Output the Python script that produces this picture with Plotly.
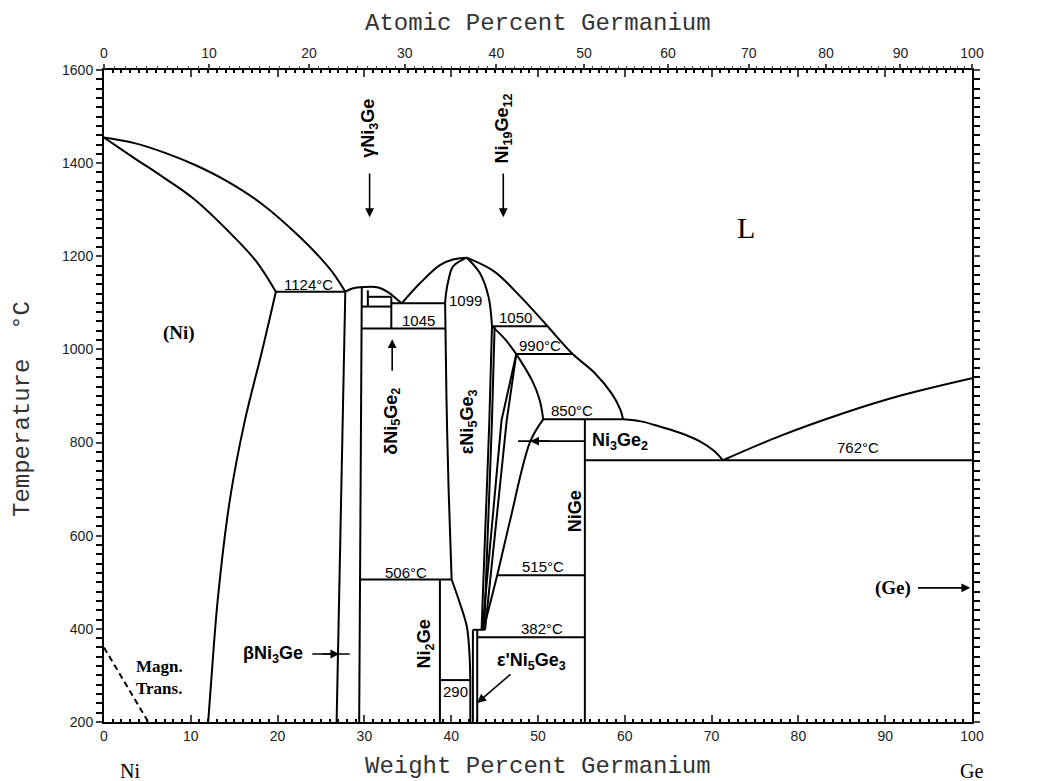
import plotly.graph_objects as go

# molar masses, used only to place the atomic-percent scale on the top axis
M_NI, M_GE = 58.69, 72.63


def at_to_wt(a):
    return 100 * a * M_GE / (a * M_GE + (100 - a) * M_NI)


wt_ticks = list(range(0, 101, 10))
t_ticks = list(range(200, 1601, 200))
at_ticks = list(range(0, 101, 10))
at_minor = [a for a in range(0, 101) if a % 10]

# phase boundaries: weight % Ge vs temperature (°C)
ni_liq_wt = [0, 3.5, 7.2, 10.5, 13.9, 18.0, 22.6, 25.0, 26.4, 27.8]
ni_liq_t = [1455, 1443, 1421, 1396, 1364, 1315, 1241, 1195, 1164, 1124]
ni_sol_wt = [0, 3.4, 6.8, 10.3, 14.9, 17.5, 19.8]
ni_sol_t = [1455, 1412, 1370, 1324, 1243, 1190, 1124]
ni_solvus_wt = [19.8, 18.2, 16.2, 14.5, 13.1, 12.4, 12.0]
ni_solvus_t = [1124, 996, 845, 677, 462, 300, 200]
eut1124_wt = [19.8, 27.8]
eut1124_t = [1124, 1124]

beta_l_wt = [27.8, 26.8]
beta_l_t = [1124, 200]
beta_r_wt = [29.7, 29.4]
beta_r_t = [1133, 200]
gamma_dome_wt = [27.8, 28.6, 30.0, 31.6, 32.8, 33.6, 34.3]
gamma_dome_t = [1124, 1131, 1134, 1133, 1122, 1110, 1099]
g_v1_wt = [30.4, 30.4]
g_v1_t = [1127, 1092]
g_h1_wt = [30.4, 33.1]
g_h1_t = [1113, 1113]
g_h2_wt = [29.7, 33.1]
g_h2_t = [1092, 1092]
g_v2_wt = [33.1, 33.1]
g_v2_t = [1113, 1045]
p1099_wt = [33.1, 39.3]
p1099_t = [1099, 1099]
p1045_wt = [29.7, 39.3]
p1045_t = [1045, 1045]

eps_liq_l_wt = [34.3, 36.4, 38.7, 40.2, 41.8]
eps_liq_l_t = [1099, 1142, 1181, 1193, 1197]
eps_liq_r_wt = [41.8, 44.9, 47.9, 51.0, 54.0, 56.5, 58.5, 59.5, 59.8]
eps_liq_r_t = [1197, 1168, 1115, 1052, 990, 950, 905, 870, 850]
eps_top_l_wt = [41.8, 40.2, 39.7, 39.4, 39.3]
eps_top_l_t = [1197, 1178, 1150, 1120, 1099]
eps_mid_l_wt = [39.3, 39.45, 39.7, 40.05]
eps_mid_l_t = [1099, 900, 700, 506]
eps_low_l_wt = [40.05, 41.0, 41.8, 42.1, 42.2]
eps_low_l_t = [506, 455, 405, 348, 290]
eps_r_wt = [41.8, 43.3, 44.3, 44.7]
eps_r_t = [1197, 1164, 1113, 1050]
eps_r_low_wt = [44.7, 44.4, 43.9, 43.5]
eps_r_low_t = [1050, 850, 600, 398]
n19_l_wt = [45.0, 44.7, 44.2, 43.8]
n19_l_t = [1048, 850, 600, 398]

p1050_wt = [44.7, 51.0]
p1050_t = [1050, 1050]
c1050_990_wt = [44.7, 46.2, 47.5]
c1050_990_t = [1050, 1022, 990]
p990_wt = [47.5, 54.0]
p990_t = [990, 990]
c990_850_wt = [47.5, 49.3, 50.2, 50.6]
c990_850_t = [990, 934, 891, 850]
p850_wt = [50.6, 59.8]
p850_t = [850, 850]
c850_down_wt = [50.6, 49.1, 46.8, 45.3, 43.8]
c850_down_t = [850, 802, 634, 515, 405]
apex_a_wt = [47.5, 45.8, 43.6]
apex_a_t = [990, 848, 398]
apex_b_wt = [47.5, 46.4, 43.9]
apex_b_t = [990, 848, 398]

nige_wt = [55.4, 55.4]
nige_t = [850, 200]
eut762_wt = [55.4, 100]
eut762_t = [762, 762]
ni3ge2_liq_wt = [59.8, 62.0, 64.1, 66.5, 68.7, 70.3, 71.3]
ni3ge2_liq_t = [850, 845, 834, 820, 802, 782, 762]
ge_liq_wt = [71.3, 78, 85, 92, 100]
ge_liq_t = [762, 815, 862, 902, 938.3]

p506_wt = [29.4, 40.05]
p506_t = [506, 506]
ni2ge_wt = [38.7, 38.7]
ni2ge_t = [506, 200]
p290_wt = [38.7, 42.2]
p290_t = [290, 290]
box290_wt = [42.2, 42.2]
box290_t = [290, 200]
epsp_l_wt = [42.5, 42.5]
epsp_l_t = [398, 200]
epsp_r_wt = [43.0, 43.0]
epsp_r_t = [398, 200]
p398_wt = [42.5, 43.9]
p398_t = [398, 398]
p382_wt = [43.0, 55.4]
p382_t = [382, 382]
p515_wt = [45.3, 55.4]
p515_t = [515, 515]

magn_wt = [0, 5.1]
magn_t = [360, 200]

curves = [
    (ni_liq_wt, ni_liq_t, True), (ni_sol_wt, ni_sol_t, True),
    (ni_solvus_wt, ni_solvus_t, True), (eut1124_wt, eut1124_t, False),
    (beta_l_wt, beta_l_t, False), (beta_r_wt, beta_r_t, False),
    (gamma_dome_wt, gamma_dome_t, True),
    (g_v1_wt, g_v1_t, False), (g_h1_wt, g_h1_t, False), (g_h2_wt, g_h2_t, False),
    (g_v2_wt, g_v2_t, False), (p1099_wt, p1099_t, False), (p1045_wt, p1045_t, False),
    (eps_liq_l_wt, eps_liq_l_t, True), (eps_liq_r_wt, eps_liq_r_t, True),
    (eps_top_l_wt, eps_top_l_t, True), (eps_mid_l_wt, eps_mid_l_t, True),
    (eps_low_l_wt, eps_low_l_t, True), (eps_r_wt, eps_r_t, True),
    (eps_r_low_wt, eps_r_low_t, True), (n19_l_wt, n19_l_t, True),
    (p1050_wt, p1050_t, False), (c1050_990_wt, c1050_990_t, True),
    (p990_wt, p990_t, False), (c990_850_wt, c990_850_t, True),
    (p850_wt, p850_t, False), (c850_down_wt, c850_down_t, True),
    (apex_a_wt, apex_a_t, False), (apex_b_wt, apex_b_t, False),
    (nige_wt, nige_t, False), (eut762_wt, eut762_t, False),
    (ni3ge2_liq_wt, ni3ge2_liq_t, True), (ge_liq_wt, ge_liq_t, True),
    (p506_wt, p506_t, False), (ni2ge_wt, ni2ge_t, False), (p290_wt, p290_t, False),
    (box290_wt, box290_t, False), (epsp_l_wt, epsp_l_t, False),
    (epsp_r_wt, epsp_r_t, False), (p398_wt, p398_t, False),
    (p382_wt, p382_t, False), (p515_wt, p515_t, False),
]

fig = go.Figure()
for xs, ys, smooth in curves:
    fig.add_trace(go.Scatter(
        x=xs, y=ys, mode='lines', hoverinfo='skip', showlegend=False,
        line=dict(color='black', width=2, shape='spline' if smooth else 'linear',
                  smoothing=1.0 if smooth else 0)))

fig.add_trace(go.Scatter(x=magn_wt, y=magn_t, mode='lines', hoverinfo='skip',
                         showlegend=False,
                         line=dict(color='black', width=2, dash='6px,4px')))

# invisible traces so the top (atomic %) axes get drawn
for ax in ['x2', 'x3']:
    fig.add_trace(go.Scatter(x=[0], y=[200], xaxis=ax, mode='markers',
                             marker=dict(opacity=0), hoverinfo='skip',
                             showlegend=False))

LBL = dict(family='Liberation Sans', size=15, color='black')
BOLD = dict(family='Liberation Sans', size=18, color='black')
SERIF_B = dict(family='Liberation Serif', size=19, color='black')


def txt(x, y, s, font=LBL, angle=0, xanchor='center', **kw):
    fig.add_annotation(x=x, y=y, text=s, showarrow=False, font=font,
                       textangle=angle, xanchor=xanchor, yanchor='middle', **kw)


def arrow(x0, y0, x1, y1, head=2):
    fig.add_annotation(x=x1, y=y1, ax=x0, ay=y0, axref='x', ayref='y', text='',
                       showarrow=True, arrowhead=head, arrowsize=1.1,
                       arrowwidth=1.6, arrowcolor='black')


def seg(x0, y0, x1, y1):
    fig.add_shape(type='line', x0=x0, y0=y0, x1=x1, y1=y1,
                  line=dict(color='black', width=1.6))


txt(-0.5, 1455, '<b>1455°C</b>', xanchor='right')
txt(23.6, 1140, '1124°C')
txt(8.6, 1035, '<b>(Ni)</b>', font=SERIF_B)
txt(74.0, 1261, 'L', font=dict(family='Liberation Serif', size=30, color='black'))
txt(36.2, 1063, '1045')
txt(41.6, 1104, '1099')
txt(47.4, 1068, '1050')
txt(50.2, 1008, '990°C')
txt(53.9, 868, '850°C')
txt(86.9, 790, '762°C')
txt(100.7, 945, '938.3°C', xanchor='left')
txt(34.8, 522, '506°C')
txt(50.6, 533, '515°C')
txt(50.5, 401, '382°C')
txt(40.5, 265, '290')

txt(30.6, 1475, '<b>γNi<sub>3</sub>Ge</b>', font=BOLD, angle=-90)
arrow(30.6, 1381, 30.6, 1284)
txt(46.0, 1475, '<b>Ni<sub>19</sub>Ge<sub>12</sub></b>', font=BOLD, angle=-90)
arrow(46.0, 1381, 46.0, 1284)
txt(33.2, 845, '<b>δNi<sub>5</sub>Ge<sub>2</sub></b>', font=BOLD, angle=-90)
arrow(33.2, 951, 33.2, 1022)
txt(42.0, 845, '<b>εNi<sub>5</sub>Ge<sub>3</sub></b>', font=BOLD, angle=-90)
txt(54.3, 653, '<b>NiGe</b>', font=BOLD, angle=-90)
txt(37.0, 367, '<b>Ni<sub>2</sub>Ge</b>', font=BOLD, angle=-90)

txt(56.0, 803, '<b>Ni<sub>3</sub>Ge<sub>2</sub></b>', font=BOLD, xanchor='left')
seg(47.7, 803, 55.4, 803)
arrow(51.5, 803, 49.1, 803)

txt(49.2, 329, "<b>ε'Ni<sub>5</sub>Ge<sub>3</sub></b>", font=BOLD)
arrow(47.0, 305, 43.0, 241)

txt(23.2, 346, '<b>βNi<sub>3</sub>Ge</b>', font=BOLD, xanchor='right')
seg(24.0, 346, 28.3, 346)
arrow(25.0, 346, 27.1, 346)

txt(3.4, 296, '<b>Magn.<br>Trans.</b>',
    font=dict(family='Liberation Serif', size=17, color='black'),
    xanchor='left', align='left')

txt(93.2, 488, '<b>(Ge)</b>', font=SERIF_B, xanchor='right')
arrow(93.6, 488, 99.8, 488)

TITLE = dict(family='Liberation Mono', size=24, color='#333')
fig.add_annotation(x=0.5, y=1.072, xref='paper', yref='paper', text='Atomic Percent Germanium',
                   showarrow=False, font=TITLE, yanchor='middle')
fig.add_annotation(x=0.5, y=-0.0675, xref='paper', yref='paper', text='Weight Percent Germanium',
                   showarrow=False, font=TITLE, yanchor='middle')
fig.add_annotation(x=-0.0945, y=0.48, xref='paper', yref='paper', text='Temperature  °C',
                   showarrow=False, font=TITLE, textangle=-90, xanchor='center')
fig.add_annotation(x=0.016, y=-0.075, xref='paper', yref='paper', text='Ni', yanchor='middle',
                   showarrow=False, font=dict(family='Liberation Serif', size=20, color='black'))
fig.add_annotation(x=1.015, y=-0.075, xref='paper', yref='paper', text='Ge', yanchor='middle',
                   showarrow=False, font=dict(family='Liberation Serif', size=20, color='black'))

TICKF = dict(family='Liberation Sans', size=14, color='#222')
# the page body adds an 8px offset, so the figure is sized and margined to compensate
fig.update_layout(
    width=1036, height=773,
    margin=dict(l=96, r=72, t=62, b=59),
    paper_bgcolor='white', plot_bgcolor='white',
    hovermode=False,
    xaxis=dict(range=[0, 100], tickvals=wt_ticks, ticks='inside', ticklen=7,
               tickwidth=1.5, showline=True, linewidth=2, linecolor='black',
               mirror='allticks', showgrid=False, zeroline=False, tickfont=TICKF,
               minor=dict(dtick=1, ticks='inside', ticklen=3, tickcolor='black',
                          showgrid=False)),
    xaxis2=dict(range=[0, 100], overlaying='x', side='top', anchor='y',
                tickvals=[at_to_wt(a) for a in at_ticks],
                ticktext=[str(a) for a in at_ticks],
                ticks='outside', ticklen=5, tickwidth=1.5, showline=False,
                showgrid=False, zeroline=False, tickfont=TICKF),
    xaxis3=dict(range=[0, 100], overlaying='x', side='top', anchor='y',
                tickvals=[at_to_wt(a) for a in at_minor],
                ticks='outside', ticklen=3, tickwidth=1, showline=False,
                showgrid=False, zeroline=False, showticklabels=False),
    yaxis=dict(range=[200, 1600], tickvals=t_ticks, ticks='outside', ticklen=6,
               tickwidth=1.5, showline=True, linewidth=2, linecolor='black',
               mirror='allticks', showgrid=False, zeroline=False, tickfont=TICKF,
               minor=dict(dtick=20, ticks='outside', ticklen=3, tickcolor='black',
                          showgrid=False)),
)

fig.write_html("out.html")
